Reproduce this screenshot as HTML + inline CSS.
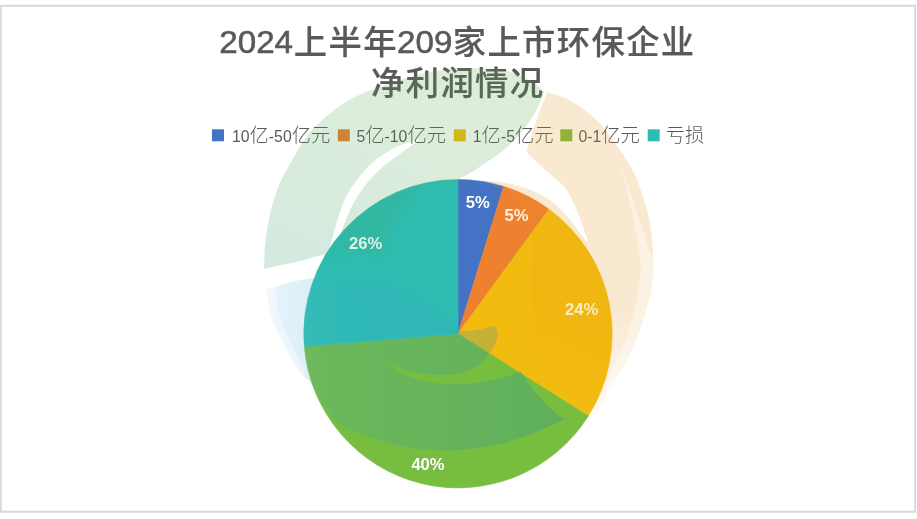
<!DOCTYPE html>
<html lang="zh-CN">
<head>
<meta charset="utf-8">
<title>2024上半年209家上市环保企业净利润情况</title>
<style>
html,body{margin:0;padding:0;background:#fff;}
body{width:917px;height:519px;overflow:hidden;position:relative;}
svg{position:absolute;left:0;top:0;display:block;}
.t{font-family:"Liberation Sans","Noto Sans CJK SC",sans-serif;fill:#595959;}
.tl{font-size:31.6px;font-weight:400;stroke:#595959;stroke-width:0.55px;}
.tc{font-size:33.3px;font-weight:500;letter-spacing:1.4px;stroke:#595959;stroke-width:0.2px;}
.ll{font-size:15.8px;}
.lc{font-size:19.3px;font-weight:300;}
.dl{font-family:"Liberation Sans",sans-serif;font-weight:700;font-size:16.6px;fill:#fff;text-anchor:middle;}
</style>
</head>
<body>
<svg width="917" height="519" viewBox="0 0 917 519">
<rect x="0" y="0" width="917" height="519" fill="#fff"/>
<rect x="0.8" y="5.8" width="914.3" height="505.9" fill="#fff" stroke="#d9d9d9" stroke-width="2"/>
<g id="pie">
<path d="M458.00 333.70 L458.00 179.50 A154.2 154.2 0 0 1 503.66 186.42 Z" fill="#4472c4" stroke="#4472c4" stroke-width="0.6" stroke-linejoin="round"/>
<path d="M458.00 333.70 L503.66 186.42 A154.2 154.2 0 0 1 549.01 209.22 Z" fill="#ee8130" stroke="#ee8130" stroke-width="0.6" stroke-linejoin="round"/>
<path d="M458.00 333.70 L549.01 209.22 A154.2 154.2 0 0 1 588.34 416.09 Z" fill="#f2bb10" stroke="#f2bb10" stroke-width="0.6" stroke-linejoin="round"/>
<path d="M458.00 333.70 L588.34 416.09 A154.2 154.2 0 0 1 304.33 346.43 Z" fill="#77bd3f" stroke="#77bd3f" stroke-width="0.6" stroke-linejoin="round"/>
<path d="M458.00 333.70 L304.33 346.43 A154.2 154.2 0 0 1 458.00 179.50 Z" fill="#2fbdb2" stroke="#2fbdb2" stroke-width="0.6" stroke-linejoin="round"/>
</g>
<g id="labels">
<text class="dl" x="477.7" y="207.8">5%</text>
<text class="dl" x="516.6" y="220.6" style="fill:#fff1dc">5%</text>
<text class="dl" x="581.6" y="314.8" style="fill:#fff3d4">24%</text>
<text class="dl" x="428" y="469.8">40%</text>
<text class="dl" x="365.6" y="249.4">26%</text>
</g>
<g id="title">
<text class="t tl" transform="translate(219.3,53.2) scale(1.05,1)">2024</text>
<text class="t tc" x="293.8" y="53.8">上半年</text>
<text class="t tl" transform="translate(397,53.2) scale(1.05,1)">209</text>
<text class="t tc" x="452.7" y="53.8">家上市环保企业</text>
<text class="t tc" x="371" y="95">净利润情况</text>
</g>
<g id="legend">
<rect x="212" y="129.3" width="12" height="12" fill="#4472c4"/>
<text class="t" x="232" y="141.5"><tspan class="ll">10</tspan><tspan class="lc">亿</tspan><tspan class="ll">-50</tspan><tspan class="lc">亿元</tspan></text>
<rect x="337.8" y="129.3" width="12" height="12" fill="#ed7d31"/>
<text class="t" x="356.5" y="141.5"><tspan class="ll">5</tspan><tspan class="lc">亿</tspan><tspan class="ll">-10</tspan><tspan class="lc">亿元</tspan></text>
<rect x="453.8" y="129.3" width="12" height="12" fill="#f2bb10"/>
<text class="t" x="472.8" y="141.5"><tspan class="ll">1</tspan><tspan class="lc">亿</tspan><tspan class="ll">-5</tspan><tspan class="lc">亿元</tspan></text>
<rect x="560.3" y="129.3" width="12" height="12" fill="#77bd3f"/>
<text class="t" x="578.5" y="141.5"><tspan class="ll">0-1</tspan><tspan class="lc">亿元</tspan></text>
<rect x="647.7" y="129.3" width="12" height="12" fill="#2fbdb2"/>
<text class="t lc" x="665.8" y="141.5">亏损</text>
</g>
<defs>
<linearGradient id="gg" gradientUnits="userSpaceOnUse" x1="400" y1="70" x2="300" y2="270">
<stop offset="0" stop-color="#5aa640"/><stop offset="1" stop-color="#2a9660"/>
</linearGradient>
<linearGradient id="bg" gradientUnits="userSpaceOnUse" x1="266" y1="0" x2="566" y2="0">
<stop offset="0" stop-color="#86c4ee"/><stop offset="0.2" stop-color="#3ca5cd"/><stop offset="1" stop-color="#0078cd"/>
</linearGradient>
<linearGradient id="og" gradientUnits="userSpaceOnUse" x1="645" y1="320" x2="600" y2="425">
<stop offset="0" stop-color="#e69119" stop-opacity="1"/><stop offset="0.6" stop-color="#e69119" stop-opacity="0.55"/><stop offset="1" stop-color="#e69119" stop-opacity="0.05"/>
</linearGradient>
<clipPath id="inpie"><circle cx="458.0" cy="333.7" r="154.2"/></clipPath>
<clipPath id="outpie"><path clip-rule="evenodd" d="M0 0H917V519H0Z M303.8 333.7 a154.2 154.2 0 1 0 308.4 0 a154.2 154.2 0 1 0 -308.4 0Z"/></clipPath>
<clipPath id="inorange"><path d="M547.0 92.0 L547.0 92.0 C548.8 92.6 554.2 94.1 558.0 95.5 C561.8 96.9 565.4 97.9 570.0 100.4 C574.6 102.9 580.3 106.4 585.4 110.4 C590.5 114.4 596.4 119.7 600.8 124.3 C605.2 128.9 608.1 133.6 611.6 138.2 C615.1 142.8 618.5 147.5 621.5 152.0 C624.5 156.5 627.2 161.0 629.5 165.0 C631.8 169.0 633.3 171.0 635.5 176.0 C637.7 181.0 640.3 188.2 642.5 195.0 C644.7 201.8 646.9 208.9 648.5 216.6 C650.1 224.3 651.5 232.4 652.3 241.0 C653.1 249.6 653.3 259.8 653.2 268.0 C653.1 276.2 652.2 284.5 651.5 290.0 C650.8 295.5 650.7 293.9 648.7 300.9 C646.7 307.8 643.2 321.4 639.4 331.7 C635.5 342.0 630.0 353.9 625.6 362.6 C621.2 371.4 616.8 377.5 613.2 384.2 C609.6 390.9 607.2 396.9 604.0 402.7 C600.8 408.5 597.5 413.9 594.0 419.0 C590.5 424.1 587.0 428.5 583.0 433.0 C579.0 437.5 572.2 443.8 570.0 446.0 L570.0 446.0 C571.7 441.3 580.0 426.8 580.0 418.0 C580.0 409.2 575.0 400.1 569.8 393.0 C564.6 385.9 555.1 383.8 549.0 375.7 C542.9 367.6 536.6 357.2 533.4 344.5 C530.2 331.8 530.3 315.0 530.0 299.4 C529.7 283.8 531.8 263.7 531.6 250.8 C531.4 237.9 532.3 231.1 529.0 222.0 C525.7 212.9 519.3 202.8 512.0 196.0 C504.7 189.2 489.5 183.5 485.0 181.0 L485.0 181.0 C487.5 181.2 494.3 181.2 500.0 182.0 C505.7 182.8 513.2 184.3 519.0 186.0 C524.8 187.7 530.2 189.8 535.0 192.0 C539.8 194.2 543.4 195.8 548.0 199.0 C552.6 202.2 557.9 206.4 562.4 211.0 C566.9 215.6 570.8 220.9 575.0 226.3 C579.2 231.7 585.7 240.4 587.8 243.2 L587.8 243.2 C587.4 241.8 587.3 239.6 585.7 234.7 C584.1 229.8 580.9 220.0 578.3 213.6 C575.7 207.2 572.5 200.6 570.0 196.0 C567.5 191.4 566.9 189.6 563.6 186.0 C560.3 182.4 554.2 177.9 550.0 174.2 C545.8 170.5 542.3 167.1 538.5 163.6 C534.7 160.1 528.9 154.8 527.0 153.0 L527.0 153.0 C527.1 152.2 527.0 150.4 527.6 148.0 C528.2 145.6 529.6 142.3 530.8 138.5 C532.0 134.7 533.2 129.5 534.7 125.0 C536.2 120.5 537.9 115.8 539.5 111.6 C541.1 107.4 543.0 103.3 544.3 100.0 C545.5 96.7 546.5 93.3 547.0 92.0 Z"/></clipPath>
<clipPath id="inblue"><path d="M266.7 290.0 L266.7 290.0 C270.4 288.7 281.4 284.3 289.0 282.4 C296.6 280.5 301.8 279.3 312.0 278.4 C322.2 277.5 335.3 275.1 350.0 277.0 C364.7 278.9 385.7 284.2 400.0 290.0 C414.3 295.8 426.0 305.2 436.0 312.0 C446.0 318.8 450.1 328.2 460.0 330.5 C469.9 332.8 489.6 326.5 495.5 325.7 L495.5 325.7 C495.8 327.7 498.5 333.2 497.5 337.7 C496.5 342.2 492.7 348.4 489.7 352.8 C486.7 357.2 483.8 361.1 479.3 364.3 C474.9 367.5 469.6 370.2 463.0 372.0 C456.4 373.8 448.8 375.1 440.0 375.0 C431.2 374.9 420.2 373.9 410.0 371.5 C399.8 369.1 384.2 362.3 379.0 360.5 L379.0 360.5 C384.6 363.3 402.2 373.7 412.4 377.5 C422.6 381.3 429.6 382.6 440.0 383.5 C450.4 384.4 463.9 384.1 474.7 383.0 C485.5 381.9 497.0 379.0 504.7 377.0 C512.4 375.0 518.3 372.0 521.0 371.0 L521.0 371.0 C522.9 373.9 527.9 382.6 532.5 388.6 C537.1 394.6 543.5 401.9 548.7 407.0 C554.0 412.1 561.5 417.0 564.0 419.0 L564.0 419.0 C561.8 420.1 559.6 422.0 551.0 425.6 C542.4 429.2 528.2 436.4 512.5 440.5 C496.8 444.6 475.6 449.1 457.0 450.0 C438.4 450.9 419.6 449.8 401.0 446.0 C382.4 442.2 357.8 433.3 345.6 427.5 C333.4 421.7 332.8 416.4 328.0 411.0 C323.2 405.6 319.9 399.7 317.0 395.0 C314.1 390.3 313.2 386.2 310.5 382.6 C307.8 379.0 305.1 379.0 301.0 373.3 C296.9 367.6 290.6 357.9 285.8 348.6 C281.0 339.4 275.2 327.6 272.0 317.8 C268.8 308.0 267.6 294.6 266.7 290.0 Z"/></clipPath>
<clipPath id="inteal"><path d="M458.00 333.70 L304.33 346.43 A154.2 154.2 0 0 1 458.00 179.50 Z"/></clipPath>
<clipPath id="notteal"><path clip-rule="evenodd" d="M0 0H917V519H0Z M458.00 333.70 L304.33 346.43 A154.2 154.2 0 0 1 458.00 179.50 Z"/></clipPath>
<filter id="bl" x="-20%" y="-20%" width="140%" height="140%"><feGaussianBlur stdDeviation="7"/></filter>
</defs>
<g id="watermark">
<g clip-path="url(#outpie)"><path d="M264.2 268.7 L264.2 268.7 C264.3 264.8 264.1 254.3 265.0 245.6 C265.9 236.9 267.3 226.3 269.5 216.7 C271.7 207.1 275.1 195.6 278.0 187.8 C280.9 180.0 283.5 176.2 286.7 170.0 C289.9 163.8 293.6 157.0 297.3 150.9 C301.0 144.8 304.4 139.0 308.9 133.5 C313.4 128.0 318.9 122.9 324.3 118.1 C329.8 113.3 336.2 108.4 341.6 104.7 C347.1 101.0 352.2 98.4 357.0 96.0 C361.8 93.6 365.3 92.2 370.5 90.2 C375.7 88.2 381.4 86.2 388.0 84.0 C394.6 81.8 402.8 79.0 410.0 77.0 C417.2 75.0 420.8 73.5 431.0 72.0 C441.2 70.5 457.8 68.0 471.0 68.0 C484.2 68.0 499.5 69.5 510.0 72.0 C520.5 74.5 528.3 79.7 534.0 83.0 C539.7 86.3 542.3 90.5 544.0 92.0 L544.0 92.0 C543.5 93.3 542.3 97.0 541.0 100.0 C539.7 103.0 538.4 106.2 536.4 110.0 C534.4 113.8 532.1 118.2 529.0 122.6 C525.9 127.0 521.6 132.0 517.6 136.4 C513.6 140.8 509.6 145.1 505.0 149.0 C500.4 152.9 494.8 156.6 490.0 160.0 C485.2 163.4 480.2 166.8 476.0 169.5 C471.8 172.2 468.5 174.3 465.0 176.0 C461.5 177.7 459.0 178.7 455.0 179.6 C451.0 180.5 445.7 180.8 441.0 181.5 C436.3 182.2 432.5 180.1 427.0 184.0 C421.5 187.9 413.8 197.0 408.0 205.0 C402.2 213.0 396.0 223.0 392.0 232.0 C388.0 241.0 385.3 254.5 384.0 259.0 L384.0 259.0 C379.2 258.2 365.0 254.7 355.0 254.0 C345.0 253.3 333.5 253.8 324.0 255.0 C314.5 256.2 308.0 259.2 298.0 261.5 C288.0 263.8 269.8 267.5 264.2 268.7 Z M330.0 262.0 L330.0 262.0 C330.0 260.0 329.6 254.1 330.0 250.0 C330.4 245.9 330.4 245.2 332.5 237.7 C334.6 230.2 338.8 214.4 342.5 205.2 C346.2 196.0 350.0 189.7 355.0 182.6 C360.0 175.5 366.3 168.2 372.6 162.6 C378.9 157.0 385.9 152.4 392.6 148.8 C399.3 145.2 408.0 142.9 412.7 141.3 C417.4 139.7 419.6 139.4 421.0 139.0 L421.0 139.0 C418.4 140.8 411.2 145.7 405.2 150.0 C399.2 154.3 391.4 159.7 385.1 165.1 C378.8 170.5 373.0 175.9 367.6 182.6 C362.2 189.3 357.1 196.4 352.5 205.2 C347.9 214.0 342.9 227.7 340.0 235.2 C337.1 242.7 336.7 245.5 335.0 250.0 C333.3 254.5 330.8 260.0 330.0 262.0 Z" fill-rule="evenodd" fill="url(#gg)" fill-opacity="0.2"/></g>
<g clip-path="url(#inpie)"><path d="M264.2 268.7 L264.2 268.7 C264.3 264.8 264.1 254.3 265.0 245.6 C265.9 236.9 267.3 226.3 269.5 216.7 C271.7 207.1 275.1 195.6 278.0 187.8 C280.9 180.0 283.5 176.2 286.7 170.0 C289.9 163.8 293.6 157.0 297.3 150.9 C301.0 144.8 304.4 139.0 308.9 133.5 C313.4 128.0 318.9 122.9 324.3 118.1 C329.8 113.3 336.2 108.4 341.6 104.7 C347.1 101.0 352.2 98.4 357.0 96.0 C361.8 93.6 365.3 92.2 370.5 90.2 C375.7 88.2 381.4 86.2 388.0 84.0 C394.6 81.8 402.8 79.0 410.0 77.0 C417.2 75.0 420.8 73.5 431.0 72.0 C441.2 70.5 457.8 68.0 471.0 68.0 C484.2 68.0 499.5 69.5 510.0 72.0 C520.5 74.5 528.3 79.7 534.0 83.0 C539.7 86.3 542.3 90.5 544.0 92.0 L544.0 92.0 C543.5 93.3 542.3 97.0 541.0 100.0 C539.7 103.0 538.4 106.2 536.4 110.0 C534.4 113.8 532.1 118.2 529.0 122.6 C525.9 127.0 521.6 132.0 517.6 136.4 C513.6 140.8 509.6 145.1 505.0 149.0 C500.4 152.9 494.8 156.6 490.0 160.0 C485.2 163.4 480.2 166.8 476.0 169.5 C471.8 172.2 468.5 174.3 465.0 176.0 C461.5 177.7 459.0 178.7 455.0 179.6 C451.0 180.5 445.7 180.8 441.0 181.5 C436.3 182.2 432.5 180.1 427.0 184.0 C421.5 187.9 413.8 197.0 408.0 205.0 C402.2 213.0 396.0 223.0 392.0 232.0 C388.0 241.0 385.3 254.5 384.0 259.0 L384.0 259.0 C379.2 258.2 365.0 254.7 355.0 254.0 C345.0 253.3 333.5 253.8 324.0 255.0 C314.5 256.2 308.0 259.2 298.0 261.5 C288.0 263.8 269.8 267.5 264.2 268.7 Z M330.0 262.0 L330.0 262.0 C330.0 260.0 329.6 254.1 330.0 250.0 C330.4 245.9 330.4 245.2 332.5 237.7 C334.6 230.2 338.8 214.4 342.5 205.2 C346.2 196.0 350.0 189.7 355.0 182.6 C360.0 175.5 366.3 168.2 372.6 162.6 C378.9 157.0 385.9 152.4 392.6 148.8 C399.3 145.2 408.0 142.9 412.7 141.3 C417.4 139.7 419.6 139.4 421.0 139.0 L421.0 139.0 C418.4 140.8 411.2 145.7 405.2 150.0 C399.2 154.3 391.4 159.7 385.1 165.1 C378.8 170.5 373.0 175.9 367.6 182.6 C362.2 189.3 357.1 196.4 352.5 205.2 C347.9 214.0 342.9 227.7 340.0 235.2 C337.1 242.7 336.7 245.5 335.0 250.0 C333.3 254.5 330.8 260.0 330.0 262.0 Z" fill-rule="evenodd" fill="url(#gg)" fill-opacity="0.17" filter="url(#bl)"/></g>
<g clip-path="url(#outpie)"><path d="M547.0 92.0 L547.0 92.0 C548.8 92.6 554.2 94.1 558.0 95.5 C561.8 96.9 565.4 97.9 570.0 100.4 C574.6 102.9 580.3 106.4 585.4 110.4 C590.5 114.4 596.4 119.7 600.8 124.3 C605.2 128.9 608.1 133.6 611.6 138.2 C615.1 142.8 618.5 147.5 621.5 152.0 C624.5 156.5 627.2 161.0 629.5 165.0 C631.8 169.0 633.3 171.0 635.5 176.0 C637.7 181.0 640.3 188.2 642.5 195.0 C644.7 201.8 646.9 208.9 648.5 216.6 C650.1 224.3 651.5 232.4 652.3 241.0 C653.1 249.6 653.3 259.8 653.2 268.0 C653.1 276.2 652.2 284.5 651.5 290.0 C650.8 295.5 650.7 293.9 648.7 300.9 C646.7 307.8 643.2 321.4 639.4 331.7 C635.5 342.0 630.0 353.9 625.6 362.6 C621.2 371.4 616.8 377.5 613.2 384.2 C609.6 390.9 607.2 396.9 604.0 402.7 C600.8 408.5 597.5 413.9 594.0 419.0 C590.5 424.1 587.0 428.5 583.0 433.0 C579.0 437.5 572.2 443.8 570.0 446.0 L570.0 446.0 C571.7 441.3 580.0 426.8 580.0 418.0 C580.0 409.2 575.0 400.1 569.8 393.0 C564.6 385.9 555.1 383.8 549.0 375.7 C542.9 367.6 536.6 357.2 533.4 344.5 C530.2 331.8 530.3 315.0 530.0 299.4 C529.7 283.8 531.8 263.7 531.6 250.8 C531.4 237.9 532.3 231.1 529.0 222.0 C525.7 212.9 519.3 202.8 512.0 196.0 C504.7 189.2 489.5 183.5 485.0 181.0 L485.0 181.0 C487.5 181.2 494.3 181.2 500.0 182.0 C505.7 182.8 513.2 184.3 519.0 186.0 C524.8 187.7 530.2 189.8 535.0 192.0 C539.8 194.2 543.4 195.8 548.0 199.0 C552.6 202.2 557.9 206.4 562.4 211.0 C566.9 215.6 570.8 220.9 575.0 226.3 C579.2 231.7 585.7 240.4 587.8 243.2 L587.8 243.2 C587.4 241.8 587.3 239.6 585.7 234.7 C584.1 229.8 580.9 220.0 578.3 213.6 C575.7 207.2 572.5 200.6 570.0 196.0 C567.5 191.4 566.9 189.6 563.6 186.0 C560.3 182.4 554.2 177.9 550.0 174.2 C545.8 170.5 542.3 167.1 538.5 163.6 C534.7 160.1 528.9 154.8 527.0 153.0 L527.0 153.0 C527.1 152.2 527.0 150.4 527.6 148.0 C528.2 145.6 529.6 142.3 530.8 138.5 C532.0 134.7 533.2 129.5 534.7 125.0 C536.2 120.5 537.9 115.8 539.5 111.6 C541.1 107.4 543.0 103.3 544.3 100.0 C545.5 96.7 546.5 93.3 547.0 92.0 Z" fill="url(#og)" fill-opacity="0.2"/></g>
<g clip-path="url(#inpie)"><path d="M547.0 92.0 L547.0 92.0 C548.8 92.6 554.2 94.1 558.0 95.5 C561.8 96.9 565.4 97.9 570.0 100.4 C574.6 102.9 580.3 106.4 585.4 110.4 C590.5 114.4 596.4 119.7 600.8 124.3 C605.2 128.9 608.1 133.6 611.6 138.2 C615.1 142.8 618.5 147.5 621.5 152.0 C624.5 156.5 627.2 161.0 629.5 165.0 C631.8 169.0 633.3 171.0 635.5 176.0 C637.7 181.0 640.3 188.2 642.5 195.0 C644.7 201.8 646.9 208.9 648.5 216.6 C650.1 224.3 651.5 232.4 652.3 241.0 C653.1 249.6 653.3 259.8 653.2 268.0 C653.1 276.2 652.2 284.5 651.5 290.0 C650.8 295.5 650.7 293.9 648.7 300.9 C646.7 307.8 643.2 321.4 639.4 331.7 C635.5 342.0 630.0 353.9 625.6 362.6 C621.2 371.4 616.8 377.5 613.2 384.2 C609.6 390.9 607.2 396.9 604.0 402.7 C600.8 408.5 597.5 413.9 594.0 419.0 C590.5 424.1 587.0 428.5 583.0 433.0 C579.0 437.5 572.2 443.8 570.0 446.0 L570.0 446.0 C571.7 441.3 580.0 426.8 580.0 418.0 C580.0 409.2 575.0 400.1 569.8 393.0 C564.6 385.9 555.1 383.8 549.0 375.7 C542.9 367.6 536.6 357.2 533.4 344.5 C530.2 331.8 530.3 315.0 530.0 299.4 C529.7 283.8 531.8 263.7 531.6 250.8 C531.4 237.9 532.3 231.1 529.0 222.0 C525.7 212.9 519.3 202.8 512.0 196.0 C504.7 189.2 489.5 183.5 485.0 181.0 L485.0 181.0 C487.5 181.2 494.3 181.2 500.0 182.0 C505.7 182.8 513.2 184.3 519.0 186.0 C524.8 187.7 530.2 189.8 535.0 192.0 C539.8 194.2 543.4 195.8 548.0 199.0 C552.6 202.2 557.9 206.4 562.4 211.0 C566.9 215.6 570.8 220.9 575.0 226.3 C579.2 231.7 585.7 240.4 587.8 243.2 L587.8 243.2 C587.4 241.8 587.3 239.6 585.7 234.7 C584.1 229.8 580.9 220.0 578.3 213.6 C575.7 207.2 572.5 200.6 570.0 196.0 C567.5 191.4 566.9 189.6 563.6 186.0 C560.3 182.4 554.2 177.9 550.0 174.2 C545.8 170.5 542.3 167.1 538.5 163.6 C534.7 160.1 528.9 154.8 527.0 153.0 L527.0 153.0 C527.1 152.2 527.0 150.4 527.6 148.0 C528.2 145.6 529.6 142.3 530.8 138.5 C532.0 134.7 533.2 129.5 534.7 125.0 C536.2 120.5 537.9 115.8 539.5 111.6 C541.1 107.4 543.0 103.3 544.3 100.0 C545.5 96.7 546.5 93.3 547.0 92.0 Z" fill="url(#og)" fill-opacity="0.1"/></g>
<g clip-path="url(#inorange)"><path d="M620.0 164.0 L620.0 164.0 C622.0 169.7 628.3 187.3 632.0 198.0 C635.7 208.7 639.0 219.2 642.0 228.0 C645.0 236.8 647.5 245.3 650.0 251.0 C652.5 256.7 655.0 255.5 657.0 262.0 C659.0 268.5 662.3 278.4 662.0 290.0 C661.7 301.6 658.7 319.6 655.0 331.7 C651.3 343.8 645.0 352.9 640.0 362.6 C635.0 372.3 630.8 383.4 625.0 390.0 C619.2 396.6 608.3 400.0 605.0 402.0 L605.0 402.0 C605.6 398.0 606.7 384.6 608.6 378.0 C610.5 371.4 613.0 370.3 616.3 362.6 C619.6 354.9 625.2 342.0 628.6 331.7 C632.0 321.4 634.4 310.8 636.4 300.9 C638.4 290.9 640.1 280.5 640.5 272.0 C640.9 263.5 640.1 258.3 639.0 250.0 C637.9 241.7 635.8 231.2 634.0 222.0 C632.2 212.8 630.3 204.7 628.0 195.0 C625.7 185.3 621.3 169.2 620.0 164.0 Z" fill="#ffffff" fill-opacity="0.4"/></g>
<g clip-path="url(#notteal)"><path d="M266.7 290.0 L266.7 290.0 C270.4 288.7 281.4 284.3 289.0 282.4 C296.6 280.5 301.8 279.3 312.0 278.4 C322.2 277.5 335.3 275.1 350.0 277.0 C364.7 278.9 385.7 284.2 400.0 290.0 C414.3 295.8 426.0 305.2 436.0 312.0 C446.0 318.8 450.1 328.2 460.0 330.5 C469.9 332.8 489.6 326.5 495.5 325.7 L495.5 325.7 C495.8 327.7 498.5 333.2 497.5 337.7 C496.5 342.2 492.7 348.4 489.7 352.8 C486.7 357.2 483.8 361.1 479.3 364.3 C474.9 367.5 469.6 370.2 463.0 372.0 C456.4 373.8 448.8 375.1 440.0 375.0 C431.2 374.9 420.2 373.9 410.0 371.5 C399.8 369.1 384.2 362.3 379.0 360.5 L379.0 360.5 C384.6 363.3 402.2 373.7 412.4 377.5 C422.6 381.3 429.6 382.6 440.0 383.5 C450.4 384.4 463.9 384.1 474.7 383.0 C485.5 381.9 497.0 379.0 504.7 377.0 C512.4 375.0 518.3 372.0 521.0 371.0 L521.0 371.0 C522.9 373.9 527.9 382.6 532.5 388.6 C537.1 394.6 543.5 401.9 548.7 407.0 C554.0 412.1 561.5 417.0 564.0 419.0 L564.0 419.0 C561.8 420.1 559.6 422.0 551.0 425.6 C542.4 429.2 528.2 436.4 512.5 440.5 C496.8 444.6 475.6 449.1 457.0 450.0 C438.4 450.9 419.6 449.8 401.0 446.0 C382.4 442.2 357.8 433.3 345.6 427.5 C333.4 421.7 332.8 416.4 328.0 411.0 C323.2 405.6 319.9 399.7 317.0 395.0 C314.1 390.3 313.2 386.2 310.5 382.6 C307.8 379.0 305.1 379.0 301.0 373.3 C296.9 367.6 290.6 357.9 285.8 348.6 C281.0 339.4 275.2 327.6 272.0 317.8 C268.8 308.0 267.6 294.6 266.7 290.0 Z" fill="url(#bg)" fill-opacity="0.2"/></g>
<g clip-path="url(#inteal)"><path d="M266.7 290.0 L266.7 290.0 C270.4 288.7 281.4 284.3 289.0 282.4 C296.6 280.5 301.8 279.3 312.0 278.4 C322.2 277.5 335.3 275.1 350.0 277.0 C364.7 278.9 385.7 284.2 400.0 290.0 C414.3 295.8 426.0 305.2 436.0 312.0 C446.0 318.8 450.1 328.2 460.0 330.5 C469.9 332.8 489.6 326.5 495.5 325.7 L495.5 325.7 C495.8 327.7 498.5 333.2 497.5 337.7 C496.5 342.2 492.7 348.4 489.7 352.8 C486.7 357.2 483.8 361.1 479.3 364.3 C474.9 367.5 469.6 370.2 463.0 372.0 C456.4 373.8 448.8 375.1 440.0 375.0 C431.2 374.9 420.2 373.9 410.0 371.5 C399.8 369.1 384.2 362.3 379.0 360.5 L379.0 360.5 C384.6 363.3 402.2 373.7 412.4 377.5 C422.6 381.3 429.6 382.6 440.0 383.5 C450.4 384.4 463.9 384.1 474.7 383.0 C485.5 381.9 497.0 379.0 504.7 377.0 C512.4 375.0 518.3 372.0 521.0 371.0 L521.0 371.0 C522.9 373.9 527.9 382.6 532.5 388.6 C537.1 394.6 543.5 401.9 548.7 407.0 C554.0 412.1 561.5 417.0 564.0 419.0 L564.0 419.0 C561.8 420.1 559.6 422.0 551.0 425.6 C542.4 429.2 528.2 436.4 512.5 440.5 C496.8 444.6 475.6 449.1 457.0 450.0 C438.4 450.9 419.6 449.8 401.0 446.0 C382.4 442.2 357.8 433.3 345.6 427.5 C333.4 421.7 332.8 416.4 328.0 411.0 C323.2 405.6 319.9 399.7 317.0 395.0 C314.1 390.3 313.2 386.2 310.5 382.6 C307.8 379.0 305.1 379.0 301.0 373.3 C296.9 367.6 290.6 357.9 285.8 348.6 C281.0 339.4 275.2 327.6 272.0 317.8 C268.8 308.0 267.6 294.6 266.7 290.0 Z" fill="url(#bg)" fill-opacity="0.15" filter="url(#bl)"/></g>
<g clip-path="url(#inblue)"><g clip-path="url(#outpie)"><path d="M266.7 290.0 L266.7 290.0 C265.2 291.7 258.8 293.3 258.0 300.0 C257.2 306.7 258.7 320.8 262.0 330.0 C265.3 339.2 272.5 347.0 278.0 355.0 C283.5 363.0 289.8 373.0 295.0 378.0 C300.2 383.0 306.7 383.8 309.0 385.0 L309.0 385.0 C307.5 381.2 303.5 369.8 300.0 362.0 C296.5 354.2 291.5 346.0 288.0 338.0 C284.5 330.0 281.2 322.5 279.0 314.0 C276.8 305.5 276.6 291.0 274.5 287.0 C272.4 283.0 268.0 289.5 266.7 290.0 Z" fill="#ffffff" fill-opacity="0.4"/></g></g>
</g>
</svg>
</body>
</html>
